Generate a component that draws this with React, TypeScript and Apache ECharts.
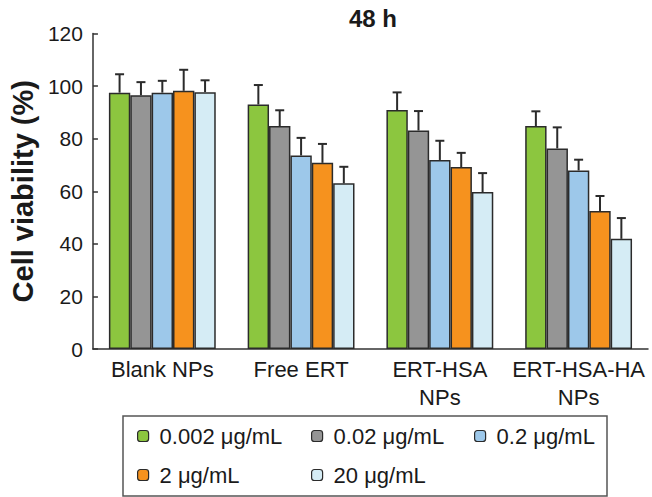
import React, { useEffect, useRef } from "react";
import * as echarts from "echarts";

const categories = ["Blank NPs", "Free ERT", "ERT-HSA\nNPs", "ERT-HSA-HA\nNPs"];
const seriesNames = ["0.002 μg/mL", "0.02 μg/mL", "0.2 μg/mL", "2 μg/mL", "20 μg/mL"];
const colors = ["#8cc63f", "#959595", "#9dc8ea", "#f6921e", "#d5ecf5"];

const v0002 = [97.5, 93.0, 90.9, 84.8];
const v002 = [96.5, 84.8, 83.1, 76.3];
const v02 = [97.5, 73.6, 71.9, 67.9];
const v2 = [98.2, 70.8, 69.2, 52.5];
const v20 = [97.7, 63.0, 59.7, 41.9];

const e0002 = [7.0, 7.4, 6.7, 5.6];
const e002 = [5.0, 6.0, 7.4, 8.0];
const e02 = [4.5, 6.7, 7.3, 4.1];
const e2 = [8.0, 7.2, 5.4, 5.7];
const e20 = [4.5, 6.3, 7.2, 7.9];

const yTicks = [0, 20, 40, 60, 80, 100, 120];

const values = [v0002, v002, v02, v2, v20];
const errors = [e0002, e002, e02, e2, e20];

const FONT = "'Liberation Sans', Arial, Helvetica, sans-serif";
const CAT_GAP = 0.23;
const AXIS_COLOR = "#333";

export default function App() {
  const ref = useRef<HTMLDivElement>(null);
  useEffect(() => {
    if (!ref.current) return;
    const chart = echarts.init(ref.current, undefined, { renderer: "svg" });

    const barSeries = seriesNames.map((name, i) => ({
      name,
      type: "bar",
      data: values[i],
      barGap: "0%",
      barCategoryGap: `${CAT_GAP * 100}%`,
      itemStyle: { color: colors[i], borderColor: "#2b2b2b", borderWidth: 1.5 },
      z: 2,
    }));

    const errSeries = seriesNames.map((name, i) => ({
      name: "err" + i,
      type: "custom",
      z: 3,
      data: values[i].map((v, k) => [k, v, errors[i][k]]),
      renderItem: (params: any, api: any) => {
        const k = api.value(0);
        const v = api.value(1);
        const e = api.value(2);
        const band = api.size([1, 0])[0];
        const groupW = band * (1 - CAT_GAP);
        const barW = groupW / 5;
        const c = api.coord([k, v]);
        const top = api.coord([k, v + e]);
        const x = c[0] - groupW / 2 + barW * (i + 0.5);
        const cap = 4.5;
        const style = { stroke: "#2b2b2b", lineWidth: 2, fill: "none" };
        return {
          type: "group",
          children: [
            { type: "line", shape: { x1: x, y1: c[1], x2: x, y2: top[1] }, style },
            { type: "line", shape: { x1: x - cap, y1: top[1], x2: x + cap, y2: top[1] }, style },
          ],
        };
      },
    }));

    const legendPos = [
      { left: 137, top: 425 },
      { left: 311, top: 425 },
      { left: 474, top: 425 },
      { left: 137, top: 464 },
      { left: 311, top: 464 },
    ];

    const legends = seriesNames.map((name, i) => ({
      data: [name],
      left: legendPos[i].left,
      top: legendPos[i].top,
      padding: 0,
      itemWidth: 11,
      itemHeight: 11,
      itemStyle: { borderColor: "#2b2b2b", borderWidth: 1.2 },
      textStyle: { fontFamily: FONT, fontSize: 22, color: "#1a1a1a", padding: [0, 0, 0, 6] },
      selectedMode: false,
    }));

    chart.setOption({
      animation: false,
      title: {
        text: "48 h",
        left: 368,
        textAlign: "center",
        top: 1,
        textStyle: { fontFamily: FONT, fontSize: 24, fontWeight: "bold", color: "#1a1a1a" },
      },
      legend: legends,
      grid: { left: 81, right: 4, top: 33.5, bottom: 148, containLabel: false },
      xAxis: {
        type: "category",
        data: categories,
        axisLine: { lineStyle: { color: AXIS_COLOR, width: 1.5 } },
        axisTick: { inside: true, length: 4, lineStyle: { color: AXIS_COLOR, width: 1.5 } },
        axisLabel: {
          fontFamily: FONT,
          fontSize: 22,
          color: "#1a1a1a",
          margin: 6,
          lineHeight: 28,
          interval: 0,
        },
      },
      yAxis: {
        type: "value",
        min: yTicks[0],
        max: yTicks[yTicks.length - 1],
        interval: 20,
        name: "Cell viability (%)",
        nameLocation: "middle",
        nameGap: 53,
        nameTextStyle: { fontFamily: FONT, fontSize: 29, fontWeight: "bold", color: "#1a1a1a" },
        axisLine: { show: true, lineStyle: { color: AXIS_COLOR, width: 1.5 } },
        axisTick: { show: true, inside: true, length: 5, lineStyle: { color: AXIS_COLOR, width: 1.5 } },
        axisLabel: { fontFamily: FONT, fontSize: 21, color: "#1a1a1a", margin: 10 },
        splitLine: { show: false },
      },
      graphic: [
        {
          type: "rect",
          shape: { x: 123, y: 416, width: 484, height: 80 },
          style: { fill: "none", stroke: "#555", lineWidth: 1.5 },
          z: -1,
        },
      ],
      series: [...barSeries, ...errSeries],
    });

    return () => chart.dispose();
  }, []);

  return (
    <div
      ref={ref}
      style={{ position: "absolute", left: 0, top: 0, width: 652, height: 497, background: "#fff" }}
    />
  );
}
